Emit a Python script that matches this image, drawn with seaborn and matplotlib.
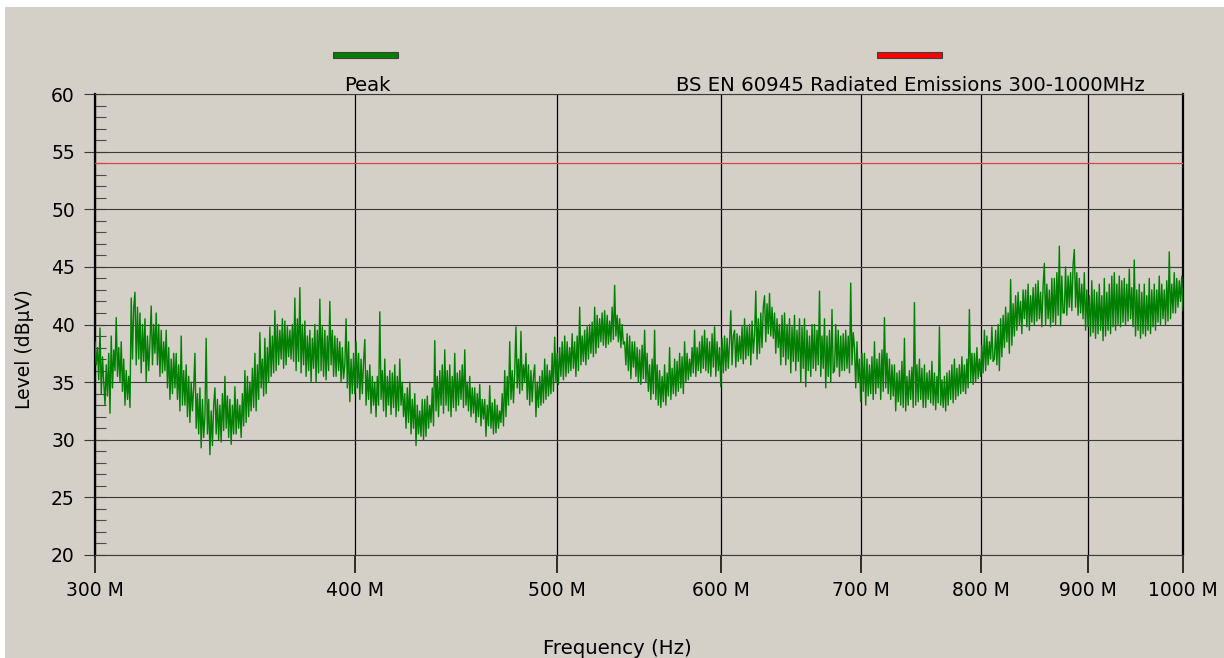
import numpy as np
import pandas as pd
import matplotlib
matplotlib.use("Agg")
import matplotlib.pyplot as plt
from matplotlib.patches import Rectangle
from matplotlib.ticker import NullLocator, FixedLocator, MultipleLocator
import seaborn as sns

# ---- data ----
start_hz = 300e6
stop_hz = 1000e6
limit_level = 54.0
series_names = ["Peak", "BS EN 60945 Radiated Emissions 300-1000MHz"]
x_ticks_hz = [300e6, 400e6, 500e6, 600e6, 700e6, 800e6, 900e6, 1000e6]
x_tick_labels = ["300 M", "400 M", "500 M", "600 M", "700 M", "800 M", "900 M", "1000 M"]
y_ticks = [20, 25, 30, 35, 40, 45, 50, 55, 60]

peak_level = [
    38.5, 36.5, 38.0, 35.2, 39.7, 34.0, 37.2, 35.0,
    33.0, 36.5, 33.8, 37.5, 32.3, 39.0, 34.5, 37.8,
    36.0, 40.6, 35.5, 38.0, 35.0, 38.5, 34.2, 37.0,
    33.0, 36.0, 33.5, 35.5, 32.8, 42.3, 37.0, 41.5,
    42.8, 36.5, 41.5, 37.0, 41.0, 35.8, 40.0, 36.8,
    40.5, 35.0, 39.0, 36.0, 38.5, 41.6, 36.5, 40.0,
    37.5, 41.0, 36.5, 40.0, 35.5, 39.5, 35.8, 38.5,
    36.0, 39.5, 34.5, 38.0, 33.5, 37.0, 34.0, 37.5,
    34.5, 37.5, 33.5, 36.5, 32.5, 39.0, 33.0, 36.0,
    33.0, 36.5, 32.0, 35.5, 31.5, 35.0, 32.5, 34.5,
    37.5, 31.0, 34.0, 30.5, 34.5, 29.3, 33.5, 30.2,
    32.0, 38.8, 30.5, 33.5, 28.7, 32.5, 29.5, 33.0,
    34.5, 30.5, 33.5, 30.0, 33.0, 29.8, 34.0, 30.8,
    35.5, 31.0, 33.8, 30.2, 33.5, 29.6, 33.0, 30.5,
    34.6, 30.5, 33.5, 31.0, 33.0, 30.2, 34.0, 31.2,
    36.0, 31.5, 35.5, 32.0, 35.0, 32.5, 36.2, 32.8,
    37.5, 32.5, 36.5, 33.5, 39.3, 34.5, 37.0, 33.8,
    38.8, 34.0, 38.0, 35.0, 39.8, 35.5, 39.0, 35.8,
    41.2, 36.0, 40.0, 36.5, 39.5, 37.0, 40.5, 36.2,
    40.3, 36.5, 39.8, 37.2, 39.5, 37.0, 40.0, 36.8,
    42.3, 36.0, 40.5, 36.8, 43.2, 35.8, 40.0, 36.5,
    40.3, 35.5, 39.0, 36.0, 39.5, 35.0, 38.8, 36.2,
    40.0, 35.0, 39.5, 35.8, 42.2, 36.0, 39.8, 35.5,
    39.5, 35.2, 39.0, 36.0, 42.0, 36.5, 39.5, 35.5,
    39.0, 35.5, 38.8, 36.0, 38.5, 35.0, 38.0, 35.3,
    36.5, 40.5, 34.5, 38.5, 33.3, 37.0, 34.0, 37.5,
    34.0, 38.5, 34.5, 37.5, 33.5, 37.0, 34.0, 36.8,
    38.7, 33.0, 36.0, 33.5, 36.5, 32.3, 35.5, 33.0,
    35.0, 32.0, 35.5, 33.0, 41.1, 33.5, 36.0, 32.5,
    37.0, 32.0, 35.5, 33.0, 36.0, 32.2, 35.8, 32.8,
    36.5, 32.0, 35.5, 32.5, 37.0, 33.0, 35.0, 32.0,
    34.0, 31.0, 34.5, 31.5, 35.0, 30.5, 33.5, 31.0,
    34.0, 29.5, 33.0, 30.5, 32.5, 30.3, 33.5, 30.0,
    33.5, 30.3, 33.8, 31.0, 33.0, 31.5, 34.5, 31.2,
    38.6, 32.5, 35.5, 32.0, 36.0, 33.0, 36.5, 32.3,
    37.8, 33.0, 36.0, 32.5, 36.5, 32.0, 35.5, 32.8,
    37.5, 32.5, 35.8, 33.0, 36.0, 33.5, 36.5, 32.8,
    37.8, 33.0, 35.0, 32.5, 35.5, 32.0, 34.5, 32.3,
    34.5, 31.5, 34.0, 32.0, 34.8, 31.2, 33.5, 31.8,
    33.5, 30.3, 33.0, 31.2, 34.7, 31.0, 33.2, 30.5,
    33.5, 30.6, 33.0, 31.0, 32.5, 31.5, 34.0, 31.2,
    36.0, 32.0, 35.5, 33.0, 38.5, 33.5, 36.0, 33.2,
    36.0, 39.8, 34.5, 37.0, 34.0, 39.4, 34.3, 36.5,
    35.0, 37.5, 33.5, 36.5, 33.0, 36.0, 33.3, 35.5,
    36.5, 32.0, 35.0, 32.8, 35.5, 33.0, 36.0, 33.2,
    37.0, 33.5, 36.5, 33.8, 36.0, 34.0, 37.5, 34.2,
    38.9, 35.0, 37.5, 34.8, 38.0, 35.5, 38.5, 35.2,
    39.0, 35.5, 38.5, 35.8, 38.0, 36.0, 39.2, 36.2,
    38.5, 35.5, 39.0, 36.0, 41.5, 36.5, 39.0, 36.8,
    39.5, 36.5, 39.8, 37.0, 40.0, 37.5, 40.2, 37.2,
    41.5, 37.5, 40.8, 38.0, 40.5, 38.5, 41.0, 38.2,
    41.2, 38.0, 40.8, 38.3, 40.3, 38.5, 41.5, 38.7,
    43.4, 39.0, 40.8, 38.5, 40.5, 38.0, 40.0, 38.3,
    38.5, 36.5, 39.2, 36.0, 39.0, 35.3, 38.5, 36.3,
    38.5, 35.5, 38.0, 35.0, 37.8, 34.8, 38.2, 35.3,
    39.5, 35.0, 37.5, 34.2, 36.5, 33.5, 37.0, 34.0,
    39.5, 33.5, 36.5, 33.0, 36.0, 32.8, 35.5, 33.3,
    36.5, 33.0, 35.8, 33.8, 38.0, 33.5, 36.2, 34.0,
    37.0, 33.8, 36.8, 34.2, 37.5, 34.5, 37.2, 34.0,
    38.5, 35.0, 37.5, 35.2, 37.0, 35.5, 38.0, 35.8,
    39.5, 35.5, 38.0, 36.0, 38.5, 35.8, 39.0, 36.2,
    39.5, 36.0, 38.8, 35.8, 38.5, 35.5, 39.2, 36.3,
    39.8, 35.5, 38.5, 36.0, 38.0, 34.6, 38.8, 35.8,
    39.0, 36.0, 38.8, 36.2, 38.5, 41.2, 36.5, 39.0,
    39.5, 36.3, 39.2, 36.8, 39.0, 37.0, 39.8, 36.6,
    40.5, 37.0, 39.8, 37.3, 40.0, 36.5, 40.3, 37.5,
    39.0, 42.9, 37.0, 40.5, 37.5, 41.0, 38.0, 41.5,
    42.5, 38.5, 41.8, 39.2, 42.7, 39.0, 41.5, 38.8,
    41.0, 37.5, 40.5, 38.0, 40.0, 36.5, 40.8, 37.2,
    41.0, 36.5, 40.0, 37.0, 40.5, 35.8, 39.8, 36.8,
    40.8, 36.0, 39.5, 36.8, 40.5, 35.0, 39.8, 36.2,
    40.5, 34.6, 39.5, 36.0, 39.0, 35.5, 40.0, 36.2,
    40.0, 36.0, 39.5, 36.5, 42.9, 35.5, 39.0, 36.2,
    40.5, 34.5, 39.0, 35.5, 39.5, 35.0, 41.3, 35.8,
    36.0, 40.0, 36.3, 39.5, 35.5, 39.0, 36.0, 39.2,
    36.0, 39.5, 36.2, 39.0, 35.8, 43.6, 36.5, 39.3,
    38.0, 34.5, 38.5, 35.0, 37.0, 33.3, 37.5, 34.2,
    37.5, 33.0, 37.0, 33.8, 36.5, 34.0, 37.2, 33.5,
    38.5, 34.0, 37.0, 34.5, 37.5, 33.5, 37.8, 34.2,
    40.6, 34.5, 37.5, 34.0, 37.0, 33.5, 36.5, 33.8,
    36.5, 32.5, 35.8, 33.3, 36.0, 33.0, 36.8, 32.8,
    38.8, 32.5, 35.5, 33.0, 36.0, 33.5, 36.3, 32.8,
    41.9, 33.0, 36.5, 33.3, 37.0, 33.5, 36.2, 32.8,
    36.5, 32.8, 35.8, 33.5, 36.0, 33.2, 36.8, 33.0,
    35.8, 32.6, 35.5, 33.2, 39.8, 33.0, 35.2, 32.8,
    35.5, 32.5, 35.8, 33.0, 36.0, 33.5, 36.5, 33.2,
    37.0, 33.5, 36.2, 33.8, 36.5, 34.0, 37.2, 34.2,
    36.5, 34.0, 37.0, 34.5, 41.3, 35.0, 37.5, 34.8,
    37.5, 35.0, 38.0, 35.3, 37.0, 35.5, 38.2, 35.8,
    39.5, 36.0, 39.0, 36.5, 38.5, 37.0, 39.8, 36.8,
    37.0, 39.5, 36.5, 40.0, 36.0, 40.5, 37.2, 40.8,
    38.0, 41.5, 38.5, 41.0, 37.5, 43.9, 38.2, 41.8,
    39.0, 42.5, 39.5, 42.8, 40.0, 42.0, 39.2, 43.0,
    40.5, 43.0, 39.8, 43.5, 39.5, 42.5, 40.2, 43.2,
    40.0, 43.5, 40.3, 43.8, 40.5, 42.8, 39.8, 43.3,
    45.3, 40.0, 43.5, 40.5, 43.0, 39.8, 44.0, 40.2,
    44.0, 40.0, 44.5, 40.8, 46.8, 39.9, 44.2, 41.0,
    41.0, 45.0, 40.8, 44.2, 41.5, 44.5, 41.2, 45.2,
    46.5, 41.5, 44.5, 40.8, 44.0, 41.0, 43.5, 40.5,
    44.5, 39.5, 43.0, 39.8, 42.5, 39.0, 43.8, 39.3,
    43.0, 38.8, 42.8, 39.2, 43.5, 39.5, 42.5, 38.6,
    44.0, 39.0, 42.8, 39.5, 43.5, 39.2, 44.2, 39.8,
    44.5, 39.5, 43.5, 40.0, 44.2, 39.8, 43.8, 40.2,
    44.0, 40.0, 43.5, 40.3, 44.8, 40.5, 43.2, 39.8,
    45.6, 39.0, 43.0, 39.5, 43.5, 38.8, 42.8, 39.2,
    43.5, 39.0, 42.5, 39.5, 44.0, 39.2, 43.0, 39.8,
    43.5, 39.5, 43.0, 40.2, 44.2, 40.0, 43.5, 40.5,
    43.0, 40.0, 43.8, 40.3, 46.3, 40.5, 43.5, 41.0,
    44.5, 41.0, 44.0, 41.5, 43.8, 42.0, 44.2, 41.2,
]

# sweep grid (log-spaced measurement points)
freq_hz = np.geomspace(start_hz, stop_hz, len(peak_level))
df = pd.DataFrame({"Frequency": freq_hz, "Level": peak_level})
lim_df = pd.DataFrame({"Frequency": [start_hz, stop_hz], "Level": [limit_level, limit_level]})

# ---- styling ----
BG = "#d4d0c8"
sns.set_theme(style="white")
plt.rcParams["font.family"] = ["DejaVu Sans"]
FS = 13.5
FS_T = 14.2

W, H = 1224, 658
fig = plt.figure(figsize=(W / 100, H / 100), dpi=100, facecolor="white")
fig.patches.append(Rectangle((5 / W, 0), 1 - 5 / W, 1 - 7 / H, transform=fig.transFigure,
                             facecolor=BG, edgecolor="none", zorder=-10))

L, R, T, B = 95, 1183, 94, 555
ax = fig.add_axes([L / W, 1 - B / H, (R - L) / W, (B - T) / H])
ax.set_facecolor(BG)

sns.lineplot(data=lim_df, x="Frequency", y="Level", ax=ax, color="#d84848", lw=0.9, zorder=3)
sns.lineplot(data=df, x="Frequency", y="Level", ax=ax, color="#008000", lw=1.0,
             estimator=None, sort=False, zorder=4)

ax.set_xscale("log")
ax.set_xlim(start_hz, stop_hz)
ax.set_ylim(20, 60)
ax.xaxis.set_major_locator(FixedLocator(x_ticks_hz))
ax.xaxis.set_minor_locator(NullLocator())
ax.set_xticklabels(x_tick_labels)
ax.set_yticks(y_ticks)
ax.yaxis.set_minor_locator(MultipleLocator(1))
ax.set_xlabel("")
ax.set_ylabel("")

ax.grid(axis="y", which="major", color="#3a3a3a", lw=0.8, zorder=1)
ax.grid(axis="x", which="major", color="#000000", lw=0.9, zorder=1)
ax.set_axisbelow(True)

for s in ["left", "right"]:
    ax.spines[s].set_color("black")
    ax.spines[s].set_linewidth(1.6)
for s in ["top", "bottom"]:
    ax.spines[s].set_color("#3a3a3a")
    ax.spines[s].set_linewidth(0.8)

ax.tick_params(axis="y", which="major", direction="inout", length=16, width=0.8,
               color="#3a3a3a", labelsize=FS, pad=6.5, left=True, labelcolor="black")
ax.tick_params(axis="y", which="minor", direction="in", length=8, width=0.8,
               color="#4a4a4a", left=True)
ax.tick_params(axis="x", which="major", direction="out", length=13, width=1.1,
               color="black", labelsize=FS, pad=6, bottom=True, labelcolor="black")

# axis titles
fig.text(25 / W, 1 - 349 / H, "Level (dBµV)", rotation=90, ha="center", va="center",
         fontsize=FS, color="black")
fig.text(617 / W, 1 - 648 / H, "Frequency (Hz)", ha="center", va="center",
         fontsize=FS_T, color="black")

# legend bars and names
legend_items = [(333, "#008000", 367), (877, "#ff0000", 910)]
for (bx, col, tx), name in zip(legend_items, series_names):
    fig.patches.append(Rectangle((bx / W, 1 - 58 / H), 65 / W, 6 / H, transform=fig.transFigure,
                                 facecolor=col, edgecolor="#404040", lw=0.8, zorder=5))
    fig.text(tx / W, 1 - 91 / H, name, ha="center", va="baseline", fontsize=FS_T, color="black")

fig.savefig("out.png", dpi=100, facecolor=fig.get_facecolor())
